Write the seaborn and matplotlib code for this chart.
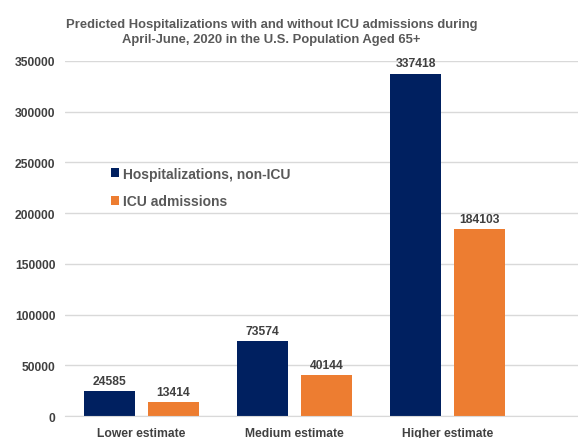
import pandas as pd
import seaborn as sns
import matplotlib.pyplot as plt

# Data
estimates = ['Lower estimate', 'Medium estimate', 'Higher estimate']
series = ['Hospitalizations, non-ICU', 'ICU admissions']
non_icu = [24585, 73574, 337418]
icu = [13414, 40144, 184103]
colors = ['#002060', '#ED7D31']

df = pd.DataFrame({
    'Estimate': estimates * 2,
    'Series': [series[0]] * 3 + [series[1]] * 3,
    'Value': non_icu + icu,
})

sns.set_style('white')
plt.rcParams['font.family'] = ['Liberation Sans', 'DejaVu Sans']
plt.rcParams['font.weight'] = 'bold'

fig = plt.figure(figsize=(5.78, 4.39), dpi=100)
ax = fig.add_axes([0.1125, 0.05, 0.8875, 0.809])

sns.barplot(data=df, x='Estimate', y='Value', hue='Series', palette=colors,
            width=0.836, gap=0.2, saturation=1, linewidth=0, ax=ax)

ax.set_ylim(0, 350000)
ax.set_xlim(-0.5, 2.85)
ax.set_yticks(range(0, 350001, 50000))
ax.yaxis.grid(True, color='#D9D9D9', linewidth=1)
ax.set_axisbelow(True)
for s in ['top', 'right', 'left']:
    ax.spines[s].set_visible(False)
ax.spines['bottom'].set_color('#D9D9D9')
ax.tick_params(axis='both', length=0, labelsize=8.7, colors='#404040')
ax.tick_params(axis='x', pad=8)
ax.tick_params(axis='y', pad=7)
for lab in ax.get_xticklabels() + ax.get_yticklabels():
    lab.set_fontweight('bold')
ax.set_xlabel('')
ax.set_ylabel('')

for cont in ax.containers:
    ax.bar_label(cont, fmt='%d', padding=3, fontsize=8.7, fontweight='bold',
                 color='#404040', clip_on=False)

leg = ax.legend(loc='upper left', bbox_to_anchor=(0.065, 0.737), frameon=False,
                fontsize=10, handlelength=0.6, handleheight=0.6,
                handletextpad=0.25, labelspacing=0.95)
for t in leg.get_texts():
    t.set_color('#595959')
    t.set_fontweight('bold')

fig.suptitle('Predicted Hospitalizations with and without ICU admissions during\n'
             'April-June, 2020 in the U.S. Population Aged 65+',
             x=0.47, y=0.957, fontsize=9.4, fontweight='bold', color='#595959',
             linespacing=1.4)

fig.savefig('out.png', dpi=100)
